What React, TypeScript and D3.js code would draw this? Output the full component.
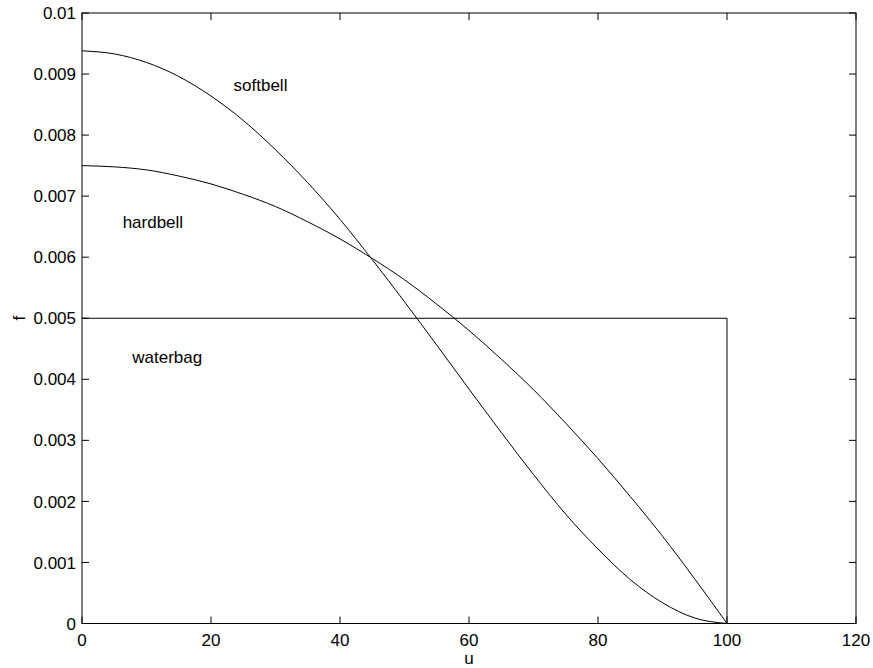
import React from "react";
import * as d3 from "d3";

// u sample positions for the bell curves
const uValues = [0, 5, 10, 15, 20, 25, 30, 35, 40, 45, 50, 55, 60, 65, 70, 75, 80, 85, 90, 95, 100];
const softbell = [0.00938, 0.00933, 0.00919, 0.00896, 0.00864, 0.00824, 0.00776, 0.00722, 0.00662, 0.00596, 0.00527, 0.00456, 0.00384, 0.00313, 0.00244, 0.00179, 0.00122, 0.00072, 0.00034, 0.00009, 0];
const hardbell = [0.0075, 0.00748, 0.00743, 0.00733, 0.0072, 0.00703, 0.00683, 0.00658, 0.0063, 0.00598, 0.00563, 0.00523, 0.0048, 0.00433, 0.00383, 0.00328, 0.0027, 0.00208, 0.00143, 0.00073, 0];
const waterbagU = [0, 100, 100];
const waterbagF = [0.005, 0.005, 0];

const xTicks = [0, 20, 40, 60, 80, 100, 120];
const yTicks = [0, 0.001, 0.002, 0.003, 0.004, 0.005, 0.006, 0.007, 0.008, 0.009, 0.01];
const yTickLabels = ["0", "0.001", "0.002", "0.003", "0.004", "0.005", "0.006", "0.007", "0.008", "0.009", "0.01"];

const labels = [
  { text: "softbell", u: 23.5, f: 0.00872 },
  { text: "hardbell", u: 6.3, f: 0.00648 },
  { text: "waterbag", u: 7.8, f: 0.00427 },
];

const W = 873;
const H = 668;
const margin = { top: 13, right: 17, bottom: 44.5, left: 82 };
const FONT = "'Liberation Sans', Arial, Helvetica, sans-serif";

export default function App() {
  const x = d3.scaleLinear().domain([0, 120]).range([margin.left, W - margin.right]);
  const y = d3.scaleLinear().domain([0, 0.01]).range([H - margin.bottom, margin.top]);
  const [x0, x1] = x.range();
  const [y0, y1] = y.range();
  const tickLen = 7;

  const bell = d3.line<number>()
    .x((_, i) => x(uValues[i]))
    .y((d) => y(d))
    .curve(d3.curveMonotoneX);

  const water = d3.line<number>()
    .x((_, i) => x(waterbagU[i]))
    .y((d) => y(d));

  return (
    <svg width={W} height={H} style={{ position: "absolute", left: 0, top: 0, background: "#fff" }} fontFamily={FONT}>
      {/* curves */}
      <path d={bell(softbell) ?? ""} fill="none" stroke="#000" strokeWidth={1} />
      <path d={bell(hardbell) ?? ""} fill="none" stroke="#000" strokeWidth={1} />
      <path d={water(waterbagF) ?? ""} fill="none" stroke="#000" strokeWidth={1} />

      {/* curve labels */}
      {labels.map((l) => (
        <text key={l.text} x={x(l.u)} y={y(l.f)} fontSize={17} fill="#000">{l.text}</text>
      ))}

      {/* x ticks (bottom and top) */}
      {xTicks.map((t) => (
        <g key={"x" + t}>
          <line x1={x(t)} x2={x(t)} y1={y0} y2={y0 - tickLen} stroke="#000" strokeWidth={1} />
          <line x1={x(t)} x2={x(t)} y1={y1} y2={y1 + tickLen} stroke="#000" strokeWidth={1} />
          <text x={x(t)} y={y0 + 22} textAnchor="middle" fontSize={17} fill="#000">{t}</text>
        </g>
      ))}

      {/* y ticks (left and right) */}
      {yTicks.map((t, i) => (
        <g key={"y" + t}>
          <line x1={x0} x2={x0 + tickLen} y1={y(t)} y2={y(t)} stroke="#000" strokeWidth={1} />
          <line x1={x1} x2={x1 - tickLen} y1={y(t)} y2={y(t)} stroke="#000" strokeWidth={1} />
          <text x={x0 - 6} y={y(t)} dy="0.36em" textAnchor="end" fontSize={17} fill="#000">{yTickLabels[i]}</text>
        </g>
      ))}

      {/* box */}
      <rect x={x0} y={y1} width={x1 - x0} height={y0 - y1} fill="none" stroke="#000" strokeWidth={1} />

      {/* axis labels */}
      <text x={(x0 + x1) / 2} y={H - 4} textAnchor="middle" fontSize={17} fill="#000">u</text>
      <text transform={`translate(25,${(y0 + y1) / 2}) rotate(-90)`} textAnchor="middle" fontSize={17} fill="#000">f</text>
    </svg>
  );
}
